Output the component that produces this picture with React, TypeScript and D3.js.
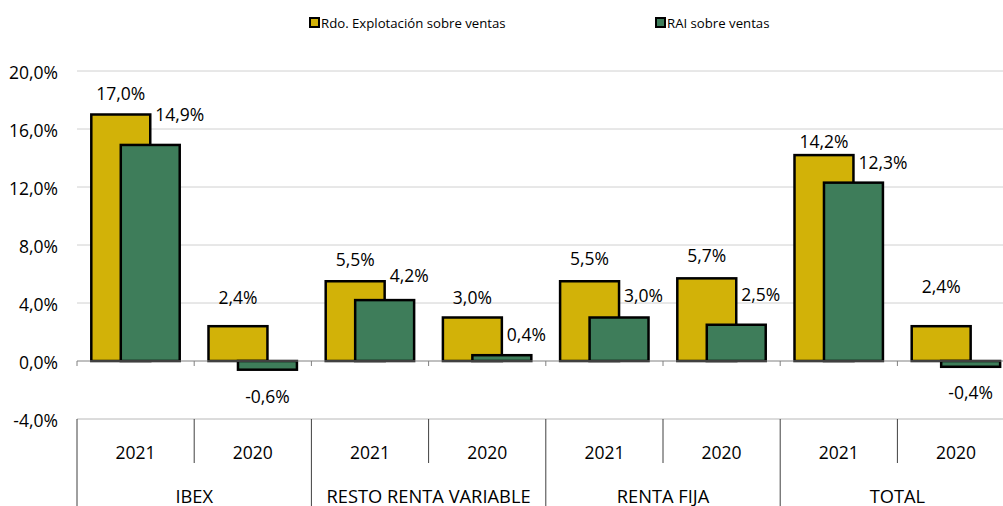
import React from "react";
import * as d3 from "d3";

const groups = ["IBEX", "RESTO RENTA VARIABLE", "RENTA FIJA", "TOTAL"];
const years = ["2021", "2020"];
const rdoVentas = [17.0, 2.4, 5.5, 3.0, 5.5, 5.7, 14.2, 2.4];
const raiVentas = [14.9, -0.6, 4.2, 0.4, 3.0, 2.5, 12.3, -0.4];
const yTicks = [-4, 0, 4, 8, 12, 16, 20];
const seriesNames = ["Rdo. Explotación sobre ventas", "RAI sobre ventas"];

// label gaps (px) between bar end and label centre, as placed in the original
const rdoLabelGap = [22, 29, 22, 21, 23, 23, 14, 40];
const raiLabelGap = [31, 26, 25, 21, 23, 31, 21, 25];

const W = 1003;
const H = 506;
const YELLOW = "#D2B208";
const GREEN = "#3E7D5A";
const FONT = "'Open Sans', 'Noto Sans', sans-serif";
const FS = 17.5;

const fmt = (v: number) => v.toFixed(1).replace(".", ",") + "%";

export default function App() {
  const slots = groups.flatMap((g) => years.map((y) => `${g}|${y}`));
  const x = d3.scaleBand<string>().domain(slots).range([77, 77 + 117.2 * 8]).padding(0);
  const y = d3.scaleLinear().domain([-4, 20]).range([419, 71]);
  const bw = x.bandwidth();
  const barW = bw * 0.503;
  const off = bw * 0.122;
  const shift = barW * 0.5;
  const y0 = y(0);
  const bottom = y(-4);

  return (
    <svg
      width={W}
      height={H}
      style={{ position: "absolute", left: 0, top: 0, background: "#fff" }}
      fontFamily={FONT}
    >
      {/* legend */}
      <g fontSize={13.2} fill="#000">
        <rect x={310} y={18} width={9} height={9} fill={YELLOW} stroke="#000" strokeWidth={2} />
        <text x={321} y={22.5} dominantBaseline="central">{seriesNames[0]}</text>
        <rect x={656} y={18} width={9} height={9} fill={GREEN} stroke="#000" strokeWidth={2} />
        <text x={667} y={22.5} dominantBaseline="central">{seriesNames[1]}</text>
      </g>

      {/* gridlines */}
      {yTicks.filter((t) => t !== 0).map((t) => (
        <line key={t} x1={77} x2={W} y1={y(t)} y2={y(t)} stroke="#d0d0d0" strokeWidth={1} />
      ))}

      {/* y tick labels */}
      {yTicks.map((t) => (
        <text key={"l" + t} x={58} y={y(t) + 1} textAnchor="end" dominantBaseline="central" fontSize={FS}>
          {fmt(t)}
        </text>
      ))}

      {/* bars */}
      {slots.map((s, i) => {
        const xs = x(s)!;
        const yx = xs + off;
        const gx = yx + shift;
        const v1 = rdoVentas[i];
        const v2 = raiVentas[i];
        return (
          <g key={s}>
            <rect
              x={yx}
              y={y(Math.max(0, v1))}
              width={barW}
              height={Math.abs(y(v1) - y0)}
              fill={YELLOW}
              stroke="#000"
              strokeWidth={2.5}
            />
            <rect
              x={gx}
              y={y(Math.max(0, v2))}
              width={barW}
              height={Math.abs(y(v2) - y0)}
              fill={GREEN}
              stroke="#000"
              strokeWidth={2.5}
            />
          </g>
        );
      })}

      {/* zero axis line with ticks */}
      <line x1={77} x2={W} y1={y0} y2={y0} stroke="#808080" strokeWidth={1} />
      {d3.range(slots.length + 1).map((k) => {
        const xx = 77 + bw * k;
        return <line key={"t" + k} x1={xx} x2={xx} y1={y0} y2={y0 + 5} stroke="#808080" strokeWidth={1} />;
      })}

      {/* data labels */}
      {slots.map((s, i) => {
        const xs = x(s)!;
        const yx = xs + off;
        const gx = yx + shift;
        const v1 = rdoVentas[i];
        const v2 = raiVentas[i];
        const l1y = v1 >= 0 ? y(v1) - rdoLabelGap[i] : y(v1) + rdoLabelGap[i];
        const l2y = v2 >= 0 ? y(v2) - raiLabelGap[i] : y(v2) + raiLabelGap[i];
        return (
          <g key={"lab" + s} fontSize={FS}>
            <text x={yx + barW / 2} y={l1y} textAnchor="middle" dominantBaseline="central">
              {fmt(v1)}
            </text>
            {v2 >= 0 ? (
              <text x={gx + barW / 2 + 5} y={l2y} textAnchor="start" dominantBaseline="central">
                {fmt(v2)}
              </text>
            ) : (
              <text x={gx + barW / 2} y={l2y} textAnchor="middle" dominantBaseline="central">
                {fmt(v2)}
              </text>
            )}
          </g>
        );
      })}

      {/* category axis */}
      <line x1={77} x2={W} y1={bottom} y2={bottom} stroke="#d0d0d0" strokeWidth={1} />
      {d3.range(slots.length + 1).map((k) => {
        const xx = 77 + bw * k;
        const major = k % 2 === 0;
        return (
          <line
            key={"c" + k}
            x1={xx}
            x2={xx}
            y1={bottom}
            y2={major ? H : 463}
            stroke="#404040"
            strokeWidth={1}
          />
        );
      })}
      {slots.map((s, i) => (
        <text
          key={"yr" + s}
          x={x(s)! + bw / 2}
          y={452}
          textAnchor="middle"
          dominantBaseline="central"
          fontSize={FS}
        >
          {years[i % 2]}
        </text>
      ))}
      {groups.map((g, gi) => (
        <text
          key={"g" + g}
          x={77 + bw * (gi * 2 + 1)}
          y={495}
          textAnchor="middle"
          dominantBaseline="central"
          fontSize={18.3}
        >
          {g}
        </text>
      ))}
    </svg>
  );
}
